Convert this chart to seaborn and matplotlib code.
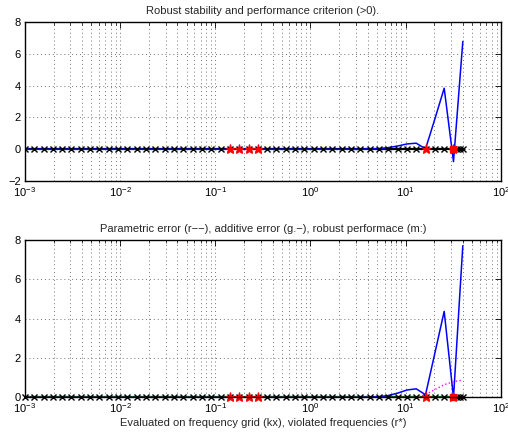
import numpy as np
import pandas as pd
import seaborn as sns
import matplotlib
matplotlib.use("Agg")
import matplotlib.pyplot as plt

# frequency grid (rad/s)
freq = [0.001, 0.001253, 0.001569, 0.001966, 0.002463, 0.003086, 0.003866, 0.004843,
        0.006067, 0.007601, 0.009522, 0.01193, 0.01495, 0.01872, 0.02346, 0.02939,
        0.03682, 0.04612, 0.05778, 0.07239, 0.09068, 0.1136, 0.1423, 0.1783,
        0.2234, 0.2798, 0.3506, 0.4392, 0.5502, 0.6893, 0.8635, 1.082,
        1.355, 1.698, 2.127, 2.665, 3.338, 4.182, 5.239, 6.563,
        8.222, 10.30, 12.90, 16.16, 20.25, 25.37, 31.78, 35.0,
        37.3, 39.81]

# robust stability / performance criterion (top panel)
criterion = [0.0] * 36 + [0.01, 0.02, 0.04, 0.1, 0.2, 0.33, 0.38, 0.02,
                          1.9, 3.84, -0.78, 2.45, 4.6, 6.78]

# bottom panel curves
robust_level = [0.0] * 36 + [0.0, 0.01, 0.04, 0.1, 0.22, 0.38, 0.44, 0.14,
                             2.25, 4.37, 0.0, 3.3, 5.5, 7.7]
param_err = [0.0] * 50
additive_err = [0.0] * 50
robust_perf = [0.0] * 43 + [0.15, 0.4, 0.65, 0.8, 0.84, 0.86, 0.87]

# violated frequencies
violated = [0.1423, 0.1783, 0.2234, 0.2798, 16.16, 31.78]
violated_big = [31.78]

df = pd.DataFrame({"freq": freq, "crit": criterion, "robust": robust_level,
                   "param": param_err, "add": additive_err, "perf": robust_perf})
df["zero"] = 0.0

sns.set_style("white")
plt.rcParams["font.family"] = ["Liberation Sans", "DejaVu Sans"]
plt.rcParams["mathtext.fontset"] = "custom"
plt.rcParams["mathtext.rm"] = "Liberation Sans"
plt.rcParams["mathtext.it"] = "Liberation Sans"
plt.rcParams["font.size"] = 8

fig = plt.figure(figsize=(5.08, 4.33), dpi=100)
ax1 = fig.add_axes([0.049, 0.582, 0.937, 0.367])
ax2 = fig.add_axes([0.049, 0.082, 0.937, 0.364])

grid_kw = dict(linestyle=(0, (1, 3)), color="0.45", lw=0.7)


def style_axes(ax, ylim, yticks):
    ax.set_xscale("log")
    ax.set_xlim(1e-3, 1e2)
    ax.set_ylim(*ylim)
    ax.set_yticks(yticks)
    ax.tick_params(which="both", direction="in", top=True, right=True,
                   labelsize=8, colors="black", pad=3)
    ax.tick_params(which="major", length=4, width=0.6)
    ax.tick_params(which="minor", length=2, width=0.5)
    ax.xaxis.grid(True, which="major", **grid_kw)
    ax.xaxis.grid(True, which="minor", **grid_kw)
    ax.yaxis.grid(True, which="major", **grid_kw)
    for s in ax.spines.values():
        s.set_color("black")
        s.set_linewidth(1.0)
    ax.set_xlabel("")
    ax.set_ylabel("")


# top panel
sns.lineplot(data=df, x="freq", y="zero", ax=ax1, color="black", lw=1.6,
             estimator=None, sort=False)
sns.lineplot(data=df, x="freq", y="crit", ax=ax1, color="blue", lw=1.1,
             estimator=None, sort=False)
ax1.plot(df["freq"], df["zero"], ls="none", marker="x", color="black",
         ms=4.2, mew=1.0)
ax1.plot(violated, [0.0] * len(violated), ls="none", marker="*", color="red",
         ms=6.5, mew=0.8)
ax1.plot(violated_big, [0.0], ls="none", marker="s", color="red", ms=5)
style_axes(ax1, (-2, 8), [-2, 0, 2, 4, 6, 8])
ax1.set_title("Robust stability and performance criterion (>0).", fontsize=8, pad=6)

# bottom panel
sns.lineplot(data=df, x="freq", y="param", ax=ax2, color="red", lw=1.0,
             linestyle="--", estimator=None, sort=False)
sns.lineplot(data=df, x="freq", y="add", ax=ax2, color="#006400", lw=1.6,
             estimator=None, sort=False)
sns.lineplot(data=df, x="freq", y="robust", ax=ax2, color="blue", lw=1.1,
             estimator=None, sort=False)
sns.lineplot(data=df, x="freq", y="perf", ax=ax2, color="magenta", lw=1.0,
             linestyle=":", estimator=None, sort=False)
ax2.plot(df["freq"], df["zero"], ls="none", marker="x", color="black",
         ms=4.2, mew=1.0, clip_on=False)
ax2.plot(violated, [0.0] * len(violated), ls="none", marker="*", color="red",
         ms=6.5, mew=0.8, clip_on=False)
ax2.plot(violated_big, [0.0], ls="none", marker="s", color="red", ms=5,
         clip_on=False)
style_axes(ax2, (0, 8), [0, 2, 4, 6, 8])
ax2.set_title("Parametric error (r\u2212\u2212), additive error (g.\u2212), robust performace (m:)",
              fontsize=8, pad=6)
ax2.set_xlabel("Evaluated on frequency grid (kx), violated frequencies (r*)",
               fontsize=8, labelpad=2)

fig.savefig("out.png", dpi=100)
